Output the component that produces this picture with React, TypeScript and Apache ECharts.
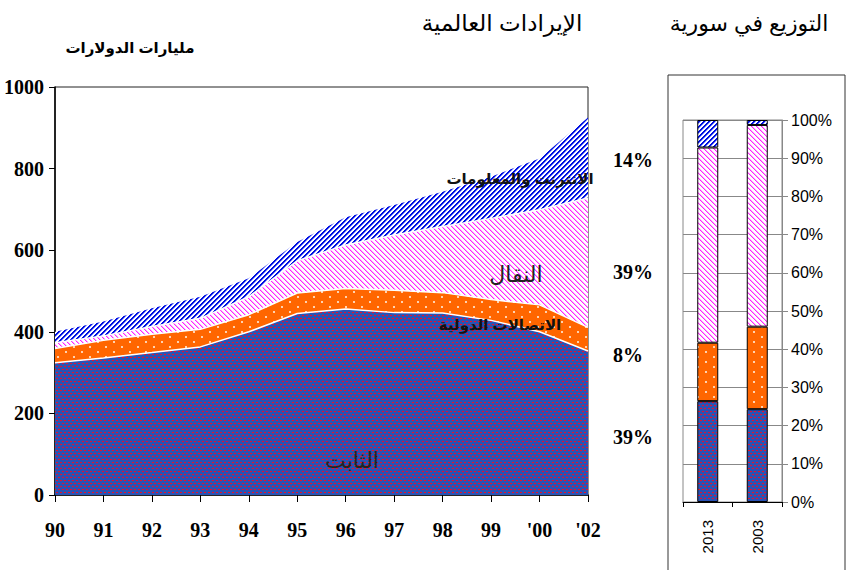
import React, { useEffect, useRef } from 'react';
import * as echarts from 'echarts';

// World revenues (billions of dollars), stacked increments per year
const years = ['90', '91', '92', '93', '94', '95', '96', '97', '98', '99', "'00", "'02"];
const fixedLine = [324, 336, 349, 363, 400, 445, 456, 447, 446, 428, 400, 353];
const international = [35, 43, 45, 43, 42, 50, 50, 55, 50, 51, 66, 58];
const mobile = [14, 11, 19, 27, 44, 79, 107, 135, 162, 199, 233, 317];
const internet = [27, 35, 45, 53, 45, 46, 68, 74, 85, 102, 126, 197];

// Distribution in Syria (%)
const syriaYears = ['2013', '2003'];
const syriaFixed = [26.4, 24.3];
const syriaIntl = [15.3, 21.6];
const syriaMobile = [51.1, 52.8];
const syriaInternet = [7.2, 1.3];

const shareLabels = ['14%', '39%', '8%', '39%'];
const shareY = [160, 272, 355, 437];

function makeTile(w: number, h: number, draw: (ctx: CanvasRenderingContext2D) => void) {
  const c = document.createElement('canvas');
  c.width = w;
  c.height = h;
  const ctx = c.getContext('2d') as CanvasRenderingContext2D;
  draw(ctx);
  return c;
}

export default function App() {
  const ref = useRef<HTMLDivElement>(null);

  useEffect(() => {
    if (!ref.current) return;
    const chart = echarts.init(ref.current, undefined, { renderer: 'svg' });

    const fixedTile = makeTile(4, 6, (ctx) => {
      ctx.fillStyle = '#2a52b4';
      ctx.fillRect(0, 0, 4, 6);
      ctx.fillStyle = '#e8102c';
      ctx.fillRect(0, 0, 2, 1);
      ctx.fillRect(2, 3, 2, 1);
    });
    const intlTile = makeTile(16, 10, (ctx) => {
      ctx.fillStyle = '#ff6600';
      ctx.fillRect(0, 0, 16, 10);
      ctx.fillStyle = '#ffd2b0';
      ctx.fillRect(1, 1, 2, 2);
      ctx.fillRect(9, 6, 2, 2);
    });
    const mobileTile = makeTile(5, 5, (ctx) => {
      ctx.fillStyle = '#ffffff';
      ctx.fillRect(0, 0, 5, 5);
      for (let i = 0; i < 5; i++) {
        ctx.fillStyle = '#ff22ff';
        ctx.fillRect(i, i, 1, 1);
        ctx.fillStyle = '#ffa8ff';
        ctx.fillRect((i + 1) % 5, i, 1, 1);
      }
    });
    const netTile = makeTile(5, 5, (ctx) => {
      ctx.fillStyle = '#ffffff';
      ctx.fillRect(0, 0, 5, 5);
      for (let y = 0; y < 5; y++) {
        ctx.fillStyle = '#0010e0';
        ctx.fillRect((4 - y + 5) % 5, y, 1, 1);
        ctx.fillRect((5 - y + 5) % 5, y, 1, 1);
        ctx.fillStyle = '#8890ff';
        ctx.fillRect((6 - y + 5) % 5, y, 1, 1);
      }
    });

    const pat = (img: HTMLCanvasElement) => ({ image: img, repeat: 'repeat' });

    const serifFont = 'Liberation Serif, Times New Roman, serif';
    const sansFont = 'Liberation Sans, Arial, DejaVu Sans, sans-serif';

    const areaSeries = (name: string, data: number[], tile: HTMLCanvasElement, line: boolean) => ({
      name,
      type: 'line',
      stack: 'world',
      xAxisIndex: 0,
      yAxisIndex: 0,
      data,
      showSymbol: false,
      symbol: 'none',
      lineStyle: { color: '#ffffff', width: line ? 1.5 : 0 },
      areaStyle: { color: pat(tile), opacity: 1 },
    });

    const barSeries = (name: string, data: number[], tile: HTMLCanvasElement) => ({
      name,
      type: 'bar',
      stack: 'syria',
      xAxisIndex: 1,
      yAxisIndex: 1,
      data,
      barWidth: 21,
      itemStyle: { color: pat(tile), borderColor: '#000', borderWidth: 1 },
    });

    const texts: any[] = [
      { type: 'text', z: 100, x: 130, y: 47, style: { text: 'مليارات الدولارات', font: 'bold 15px ' + sansFont, fill: '#000', align: 'center', verticalAlign: 'middle' } },
      { type: 'text', z: 100, x: 502, y: 23, style: { text: 'الإيرادات العالمية', font: '23px ' + sansFont, fill: '#000', align: 'center', verticalAlign: 'middle' } },
      { type: 'text', z: 100, x: 749, y: 23, style: { text: 'التوزيع في سورية', font: '22px ' + sansFont, fill: '#000', align: 'center', verticalAlign: 'middle' } },
      { type: 'text', z: 100, x: 520, y: 178, style: { text: 'الانترنت والمعلومات', font: 'bold 15px ' + sansFont, fill: '#111', align: 'center', verticalAlign: 'middle' } },
      { type: 'text', z: 100, x: 516, y: 274, style: { text: 'النقال', font: '22px ' + sansFont, fill: '#222', align: 'center', verticalAlign: 'middle' } },
      { type: 'text', z: 100, x: 500, y: 324, style: { text: 'الاتصالات الدولية', font: 'bold 15px ' + sansFont, fill: '#111', align: 'center', verticalAlign: 'middle' } },
      { type: 'text', z: 100, x: 352, y: 460, style: { text: 'الثابت', font: '22px ' + sansFont, fill: '#222', align: 'center', verticalAlign: 'middle' } },
      { type: 'rect', z: 100, shape: { x: 668, y: 75, width: 177, height: 510 }, style: { fill: 'none', stroke: '#333', lineWidth: 1 } },
    ];
    shareLabels.forEach((t, i) => {
      texts.push({ type: 'text', z: 100, x: 613, y: shareY[i], style: { text: t, font: 'bold 20px ' + serifFont, fill: '#000', align: 'left', verticalAlign: 'middle' } });
    });

    chart.setOption({
      animation: false,
      backgroundColor: '#ffffff',
      grid: [
        { left: 55, top: 87, width: 533, height: 408, show: true, borderColor: '#222', borderWidth: 1, backgroundColor: 'transparent' },
        { left: 683, top: 120, width: 99, height: 382, show: true, borderColor: '#888', borderWidth: 1, backgroundColor: 'transparent' },
      ],
      xAxis: [
        {
          gridIndex: 0,
          type: 'category',
          data: years,
          boundaryGap: false,
          axisLine: { show: true, lineStyle: { color: '#000', width: 1.5 } },
          axisTick: { show: true, length: 7, lineStyle: { color: '#000' } },
          axisLabel: { color: '#000', fontFamily: serifFont, fontWeight: 'bold', fontSize: 20, margin: 25 },
          splitLine: { show: false },
        },
        {
          gridIndex: 1,
          type: 'category',
          data: syriaYears,
          boundaryGap: true,
          axisLine: { show: true, lineStyle: { color: '#000', width: 1 } },
          axisTick: { show: true, length: 5, interval: 0, lineStyle: { color: '#000' } },
          axisLabel: { color: '#000', fontFamily: sansFont, fontSize: 15, rotate: 90, margin: 18 },
          splitLine: { show: false },
        },
      ],
      yAxis: [
        {
          gridIndex: 0,
          type: 'value',
          min: 0,
          max: 1000,
          interval: 200,
          axisLine: { show: true, lineStyle: { color: '#000', width: 1.5 } },
          axisTick: { show: true, length: 6, lineStyle: { color: '#000' } },
          axisLabel: { color: '#000', fontFamily: serifFont, fontWeight: 'bold', fontSize: 20, margin: 11, formatter: (v: number) => String(v) },
          splitLine: { show: false },
        },
        {
          gridIndex: 1,
          type: 'value',
          position: 'right',
          min: 0,
          max: 100,
          interval: 10,
          axisLine: { show: true, lineStyle: { color: '#888', width: 1 } },
          axisTick: { show: true, length: 6, lineStyle: { color: '#888' } },
          axisLabel: { color: '#000', fontFamily: sansFont, fontSize: 16, margin: 9, formatter: '{value}%' },
          splitLine: { show: true, lineStyle: { color: '#888', width: 1 } },
        },
      ],
      series: [
        areaSeries('الثابت', fixedLine, fixedTile, true),
        areaSeries('الاتصالات الدولية', international, intlTile, true),
        areaSeries('النقال', mobile, mobileTile, true),
        areaSeries('الانترنت والمعلومات', internet, netTile, false),
        barSeries('الثابت', syriaFixed, fixedTile),
        barSeries('الاتصالات الدولية', syriaIntl, intlTile),
        barSeries('النقال', syriaMobile, mobileTile),
        barSeries('الانترنت والمعلومات', syriaInternet, netTile),
      ],
      graphic: texts,
    } as any);

    return () => chart.dispose();
  }, []);

  return <div ref={ref} style={{ position: 'absolute', left: 0, top: 0, width: 847, height: 570 }} />;
}
